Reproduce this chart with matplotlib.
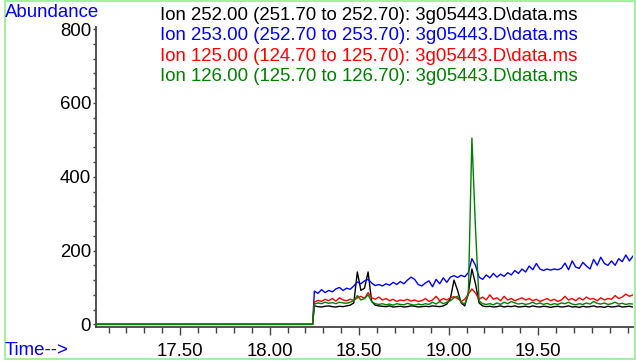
import numpy as np
import matplotlib
matplotlib.use('Agg')
import matplotlib.pyplot as plt
from matplotlib.patches import Rectangle
from matplotlib.ticker import MultipleLocator, FixedLocator, FormatStrFormatter

plt.rcParams['font.family'] = ['Liberation Sans', 'DejaVu Sans']

# ---------------- data ----------------
scan_start = 18.25
scan_step = 0.02
pre_times = [17.03, 18.24]
pre_values = [0, 0]

ion252 = [50, 48, 47, 49, 50, 48, 47, 49, 48, 50,
          52, 58, 142, 92, 98, 142, 62, 52, 50, 49,
          48, 50, 47, 48, 49, 47, 48, 50, 49, 47,
          48, 49, 48, 50, 49, 48, 50, 55, 70, 120,
          92, 58, 50, 85, 150, 110, 58, 50, 48, 49,
          47, 48, 50, 47, 49, 48, 50, 47, 48, 49,
          47, 50, 48, 47, 49, 48, 46, 48, 49, 47,
          48, 50, 47, 48, 46, 49, 47, 48, 50, 47,
          48, 46, 49, 47, 48, 50, 47, 48, 49, 47]

ion253 = [90, 84, 94, 86, 92, 88, 96, 100, 92, 98,
          95, 104, 115, 110, 118, 122, 112, 105, 108, 104,
          110, 106, 114, 108, 116, 110, 120, 128, 122, 108,
          104, 112, 118, 102, 122, 110, 126, 114, 128, 132,
          127, 133, 129, 140, 178, 160, 128, 122, 134, 126,
          138, 128, 136, 130, 140, 134, 146, 138, 150, 142,
          158, 148, 165, 150, 146, 150, 147, 150, 148, 152,
          166, 148, 172, 155, 152, 168, 158, 150, 176, 160,
          182, 165, 160, 172, 160, 178, 170, 188, 172, 185]

ion125 = [60, 65, 62, 68, 64, 70, 63, 72, 66, 64,
          68, 65, 72, 76, 70, 86, 72, 68, 74, 66,
          70, 64, 68, 62, 66, 64, 68, 63, 66, 62,
          64, 70, 62, 66, 76, 64, 70, 66, 72, 75,
          70, 62, 68, 82, 96, 85, 68, 74, 66, 80,
          68, 72, 64, 76, 66, 70, 64, 68, 72, 66,
          70, 64, 68, 62, 66, 70, 64, 68, 62, 66,
          76, 66, 70, 64, 72, 66, 74, 68, 70, 64,
          72, 66, 70, 68, 78, 70, 74, 82, 76, 80]

ion126 = [55, 58, 56, 60, 57, 59, 56, 60, 58, 57,
          60, 64, 78, 66, 70, 80, 62, 56, 54, 56,
          53, 55, 52, 56, 54, 53, 57, 54, 52, 55,
          53, 56, 54, 60, 55, 62, 56, 60, 64, 72,
          76, 60, 55, 80, 505, 260, 64, 56, 54, 56,
          53, 58, 54, 60, 56, 62, 58, 55, 57, 54,
          56, 60, 55, 58, 54, 57, 53, 56, 54, 58,
          56, 60, 55, 53, 56, 54, 58, 55, 62, 57,
          55, 58, 54, 56, 60, 55, 57, 54, 56, 55]

series = [ion252, ion253, ion125, ion126]
series_labels = [
    "Ion 252.00 (251.70 to 252.70): 3g05443.D\\data.ms",
    "Ion 253.00 (252.70 to 253.70): 3g05443.D\\data.ms",
    "Ion 125.00 (124.70 to 125.70): 3g05443.D\\data.ms",
    "Ion 126.00 (125.70 to 126.70): 3g05443.D\\data.ms",
]
series_colors = ['#000000', '#0000FF', '#FF0000', '#008000']

x_major = [17.5, 18.0, 18.5, 19.0, 19.5]
y_major = [0, 200, 400, 600, 800]

# ---------------- figure ----------------
W, H = 636, 361
fig = plt.figure(figsize=(W / 100, H / 100), dpi=100)

ax_left, ax_right = 96, 633
ax_top, ax_bottom = 27, 327.3
ax = fig.add_axes([ax_left / W, (H - ax_bottom) / H,
                   (ax_right - ax_left) / W, (ax_bottom - ax_top) / H])

for vals, col in zip(series, series_colors):
    t = np.concatenate([pre_times, scan_start + scan_step * np.arange(len(vals))])
    v = np.concatenate([pre_values, vals])
    ax.plot(t, v, color=col, lw=1.0)

ax.set_xlim(17.03, 20.03)
ax.set_ylim(-8, 806)

for s in ['top', 'right']:
    ax.spines[s].set_visible(False)
for s in ['left', 'bottom']:
    ax.spines[s].set_color('#444444')
    ax.spines[s].set_linewidth(1.3)

ax.xaxis.set_major_locator(FixedLocator(x_major))
ax.xaxis.set_minor_locator(MultipleLocator(0.1))
ax.xaxis.set_major_formatter(FormatStrFormatter('%.2f'))
ax.yaxis.set_major_locator(FixedLocator(y_major))
ax.yaxis.set_minor_locator(MultipleLocator(40))

fs = 13.4
ax.tick_params(axis='x', which='major', length=6, width=1.0, color='#444444',
               labelsize=fs, pad=5)
ax.tick_params(axis='x', which='minor', length=4.5, width=1.0, color='#444444')
ax.tick_params(axis='y', which='major', length=2.5, width=1.0, color='#444444',
               labelsize=fs, pad=1)
ax.tick_params(axis='y', which='minor', length=2, width=1.0, color='#444444')

# texts
fig.text(5 / W, (H - 17) / H, 'Abundance', color='#0000FF', fontsize=fs,
         ha='left', va='baseline')
fig.text(5 / W, (H - 355) / H, 'Time-->', color='#0000FF', fontsize=fs,
         ha='left', va='baseline')
for k, (lab, col) in enumerate(zip(series_labels, series_colors)):
    fig.text(160 / W, (H - (19.5 + 20.6 * k)) / H, lab, color=col,
             fontsize=fs, ha='left', va='baseline')

# light green frame
fig.patches.append(Rectangle((4.5 / W, 2.5 / H), (635 - 4.5) / W, (H - 3.5) / H,
                             transform=fig.transFigure, fill=False,
                             edgecolor='#90EE90', lw=1.2))

fig.savefig('out.png', dpi=100)
